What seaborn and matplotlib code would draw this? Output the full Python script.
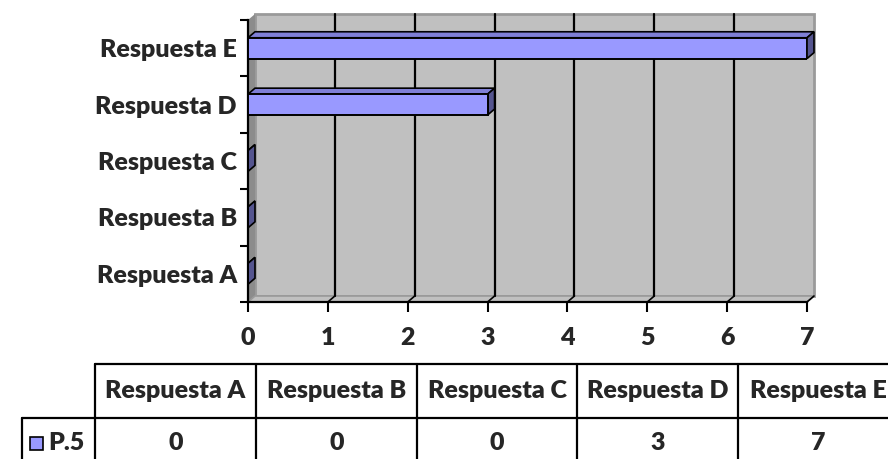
import numpy as np
import pandas as pd
import matplotlib
matplotlib.use("Agg")
import matplotlib.pyplot as plt
from matplotlib.patches import Polygon, Rectangle
from matplotlib.lines import Line2D
import seaborn as sns

# Data
categories = ["Respuesta A", "Respuesta B", "Respuesta C", "Respuesta D", "Respuesta E"]
values = [0, 0, 0, 3, 7]
series_name = "P.5"
x_ticks = [0, 1, 2, 3, 4, 5, 6, 7]

W, H = 888, 459
sns.set_theme(style="white")
plt.rcParams["font.family"] = ["Lato", "DejaVu Sans"]
FW = "heavy"
plt.rcParams["font.weight"] = FW
FS = 18

BAR_FRONT = "#9999FF"
BAR_TOP = "#7F7FD6"
BAR_SIDE = "#55558F"
WALL = "#C0C0C0"

fig = plt.figure(figsize=(W / 100, H / 100), dpi=100)
fig.patch.set_facecolor("white")

# front frame of the 3D plot area (pixels)
L, R, T, B = 248, 807, 20, 302
ax = fig.add_axes([L / W, 1 - B / H, (R - L) / W, (B - T) / H])
ax.set_facecolor("none")

df = pd.DataFrame({"cat": categories, "val": values})
order = categories[::-1]
sns.barplot(data=df, x="val", y="cat", order=order, orient="h", width=0.37,
            color=BAR_FRONT, saturation=1, edgecolor="black", linewidth=1.4,
            errorbar=None, ax=ax, zorder=5)
bars = list(ax.patches)

ax.set_xlim(0, 7)
ax.set_ylim(4.5, -0.5)

# depth of the 3D effect in data units
dx = 7.0 / ((R - L) / 7.0)
dy = -6.0 / ((B - T) / 5.0)

# back wall with gridlines
ax.add_patch(Rectangle((dx, -0.5 + dy), 7, 5, facecolor=WALL, edgecolor="#9A9A9A",
                       lw=2, clip_on=False, zorder=0))
for k in range(1, 7):
    ax.plot([k + dx, k + dx], [-0.5 + dy, 4.5 + dy], color="black", lw=1.6,
            clip_on=False, zorder=1)
# left side wall
ax.add_patch(Polygon([(0, -0.5), (dx, -0.5 + dy), (dx, 4.5 + dy), (0, 4.5)],
                     closed=True, facecolor="#8C8C8C", edgecolor="none",
                     clip_on=False, zorder=0.5))
# floor
ax.add_patch(Polygon([(0, 4.5), (dx, 4.5 + dy), (7 + dx, 4.5 + dy), (7, 4.5)],
                     closed=True, facecolor=WALL, edgecolor="#9A9A9A", lw=1.2,
                     clip_on=False, zorder=0.6))
for k in range(1, 8):
    ax.plot([k, k + dx], [4.5, 4.5 + dy], color="black", lw=1.2,
            clip_on=False, zorder=0.7)

# top and side faces of each bar
for p in bars:
    x0, w = p.get_x(), p.get_width()
    y0, h = p.get_y(), p.get_height()
    x1 = x0 + w
    top = [(x0, y0), (x0 + dx, y0 + dy), (x1 + dx, y0 + dy), (x1, y0)]
    side = [(x1, y0), (x1 + dx, y0 + dy), (x1 + dx, y0 + h + dy), (x1, y0 + h)]
    ax.add_patch(Polygon(top, closed=True, facecolor=BAR_TOP, edgecolor="black",
                         lw=1.2, clip_on=False, zorder=4))
    ax.add_patch(Polygon(side, closed=True, facecolor=BAR_SIDE, edgecolor="black",
                         lw=1.2, clip_on=False, zorder=4))

# spines
for s in ["top", "right"]:
    ax.spines[s].set_visible(False)
for s in ["left", "bottom"]:
    ax.spines[s].set_color("black")
    ax.spines[s].set_linewidth(1.6)

# category ticks at band boundaries, labels at band centres
ax.set_yticks(np.arange(-0.5, 5.0, 1.0))
ax.set_yticklabels([])
ax.set_yticks(range(len(order)), minor=True)
ax.set_yticklabels(order, minor=True, fontsize=FS, fontweight=FW)
ax.tick_params(axis="y", which="major", length=6, width=1.5, color="black",
               direction="out", left=True)
ax.tick_params(axis="y", which="minor", length=0, pad=8, left=True)

ax.set_xticks(x_ticks)
ax.set_xticklabels([str(t) for t in x_ticks], fontsize=FS, fontweight=FW)
ax.tick_params(axis="x", which="major", length=7, width=1.5, color="black",
               direction="out", pad=11, bottom=True)
ax.set_xlabel("")
ax.set_ylabel("")

# data table under the chart
def fx(x):
    return x / W


def fy(y):
    return 1 - y / H


def hline(y, x0, x1):
    fig.add_artist(Line2D([fx(x0), fx(x1)], [fy(y), fy(y)], color="black",
                          lw=1.6, transform=fig.transFigure))


def vline(x, y0, y1):
    fig.add_artist(Line2D([fx(x), fx(x)], [fy(y0), fy(y1)], color="black",
                          lw=1.6, transform=fig.transFigure))


cols = [95, 256, 417, 577, 738, 899]
row_top, row_mid, row_bot = 364, 418, 480
legend_left = 22

hline(row_top, cols[0], cols[-1])
hline(row_mid, legend_left, cols[-1])
for c in cols:
    vline(c, row_top, row_bot)
vline(legend_left, row_mid, row_bot)

for i, (cat, v) in enumerate(zip(categories, values)):
    cx = (cols[i] + cols[i + 1]) / 2
    fig.text(fx(cx), fy(391), cat, ha="center", va="center", fontsize=FS,
             fontweight=FW)
    fig.text(fx(cx), fy(443), str(v), ha="center", va="center", fontsize=FS,
             fontweight=FW)

# legend key in the table
fig.add_artist(Rectangle((fx(30), fy(450)), fx(13), 13 / H, facecolor=BAR_FRONT,
                         edgecolor="black", lw=1.2, transform=fig.transFigure))
fig.text(fx(48), fy(443), series_name, ha="left", va="center", fontsize=FS,
         fontweight=FW)

fig.savefig("out.png", dpi=100)
